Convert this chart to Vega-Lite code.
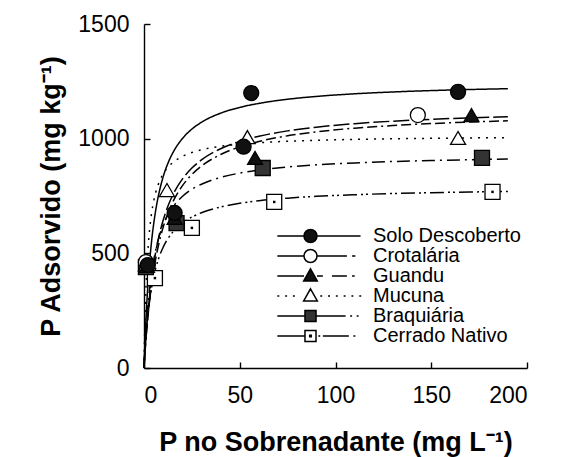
{
  "$schema": "https://vega.github.io/schema/vega-lite/v6.json",
  "width": 383,
  "height": 344,
  "autosize": "none",
  "padding": {"left": 144, "top": 24, "right": 37, "bottom": 89},
  "background": "white",
  "config": {
    "view": {"stroke": null},
    "axis": {
      "grid": false,
      "domainColor": "black",
      "domainWidth": 1.4,
      "tickColor": "black",
      "tickWidth": 1.4,
      "tickSize": -6,
      "labelFont": "Liberation Sans",
      "labelFontSize": 23,
      "labelColor": "black",
      "titleFont": "Liberation Sans",
      "titleFontSize": 27,
      "titleFontWeight": "bold",
      "titleColor": "black",
      "format": "d"
    },
    "legend": {
      "orient": "none",
      "legendX": 156.5,
      "legendY": 202,
      "symbolSize": 169,
      "labelOffset": 52.5,
      "labelFont": "Liberation Sans",
      "labelFontSize": 20,
      "labelColor": "black",
      "rowPadding": -1,
      "symbolStrokeWidth": 1.5
    }
  },
  "datasets": {
    "curves": [
      {"series": "Solo Descoberto", "C": 0, "q": 0},
      {"series": "Solo Descoberto", "C": 0.5, "q": 113.6},
      {"series": "Solo Descoberto", "C": 1, "q": 208.3},
      {"series": "Solo Descoberto", "C": 2, "q": 357.1},
      {"series": "Solo Descoberto", "C": 3, "q": 468.8},
      {"series": "Solo Descoberto", "C": 4, "q": 555.6},
      {"series": "Solo Descoberto", "C": 6, "q": 681.8},
      {"series": "Solo Descoberto", "C": 8, "q": 769.2},
      {"series": "Solo Descoberto", "C": 10, "q": 833.3},
      {"series": "Solo Descoberto", "C": 13, "q": 902.8},
      {"series": "Solo Descoberto", "C": 16, "q": 952.4},
      {"series": "Solo Descoberto", "C": 20, "q": 1000},
      {"series": "Solo Descoberto", "C": 25, "q": 1041.7},
      {"series": "Solo Descoberto", "C": 30, "q": 1071.4},
      {"series": "Solo Descoberto", "C": 40, "q": 1111.1},
      {"series": "Solo Descoberto", "C": 50, "q": 1136.4},
      {"series": "Solo Descoberto", "C": 60, "q": 1153.8},
      {"series": "Solo Descoberto", "C": 75, "q": 1171.9},
      {"series": "Solo Descoberto", "C": 90, "q": 1184.2},
      {"series": "Solo Descoberto", "C": 110, "q": 1195.7},
      {"series": "Solo Descoberto", "C": 130, "q": 1203.7},
      {"series": "Solo Descoberto", "C": 150, "q": 1209.7},
      {"series": "Solo Descoberto", "C": 170, "q": 1214.3},
      {"series": "Solo Descoberto", "C": 190, "q": 1217.9},
      {"series": "Crotalária", "C": 0, "q": 0},
      {"series": "Crotalária", "C": 0.5, "q": 69.6},
      {"series": "Crotalária", "C": 1, "q": 131.2},
      {"series": "Crotalária", "C": 2, "q": 235.2},
      {"series": "Crotalária", "C": 3, "q": 319.9},
      {"series": "Crotalária", "C": 4, "q": 390},
      {"series": "Crotalária", "C": 6, "q": 499.6},
      {"series": "Crotalária", "C": 8, "q": 581.2},
      {"series": "Crotalária", "C": 10, "q": 644.3},
      {"series": "Crotalária", "C": 13, "q": 716.2},
      {"series": "Crotalária", "C": 16, "q": 769.9},
      {"series": "Crotalária", "C": 20, "q": 823.3},
      {"series": "Crotalária", "C": 25, "q": 871.8},
      {"series": "Crotalária", "C": 30, "q": 907.3},
      {"series": "Crotalária", "C": 40, "q": 956.1},
      {"series": "Crotalária", "C": 50, "q": 988},
      {"series": "Crotalária", "C": 60, "q": 1010.5},
      {"series": "Crotalária", "C": 75, "q": 1034},
      {"series": "Crotalária", "C": 90, "q": 1050.3},
      {"series": "Crotalária", "C": 110, "q": 1065.5},
      {"series": "Crotalária", "C": 130, "q": 1076.3},
      {"series": "Crotalária", "C": 150, "q": 1084.4},
      {"series": "Crotalária", "C": 170, "q": 1090.6},
      {"series": "Crotalária", "C": 190, "q": 1095.6},
      {"series": "Guandu", "C": 0, "q": 0},
      {"series": "Guandu", "C": 0.5, "q": 63.7},
      {"series": "Guandu", "C": 1, "q": 120.5},
      {"series": "Guandu", "C": 2, "q": 217.7},
      {"series": "Guandu", "C": 3, "q": 297.8},
      {"series": "Guandu", "C": 4, "q": 364.9},
      {"series": "Guandu", "C": 6, "q": 470.9},
      {"series": "Guandu", "C": 8, "q": 551},
      {"series": "Guandu", "C": 10, "q": 613.6},
      {"series": "Guandu", "C": 13, "q": 685.5},
      {"series": "Guandu", "C": 16, "q": 739.7},
      {"series": "Guandu", "C": 20, "q": 794.1},
      {"series": "Guandu", "C": 25, "q": 843.8},
      {"series": "Guandu", "C": 30, "q": 880.4},
      {"series": "Guandu", "C": 40, "q": 931},
      {"series": "Guandu", "C": 50, "q": 964.3},
      {"series": "Guandu", "C": 60, "q": 987.8},
      {"series": "Guandu", "C": 75, "q": 1012.5},
      {"series": "Guandu", "C": 90, "q": 1029.7},
      {"series": "Guandu", "C": 110, "q": 1045.8},
      {"series": "Guandu", "C": 130, "q": 1057.2},
      {"series": "Guandu", "C": 150, "q": 1065.8},
      {"series": "Guandu", "C": 170, "q": 1072.4},
      {"series": "Guandu", "C": 190, "q": 1077.7},
      {"series": "Mucuna", "C": 0, "q": 0},
      {"series": "Mucuna", "C": 0.5, "q": 203},
      {"series": "Mucuna", "C": 1, "q": 338.3},
      {"series": "Mucuna", "C": 2, "q": 507.5},
      {"series": "Mucuna", "C": 3, "q": 609},
      {"series": "Mucuna", "C": 4, "q": 676.7},
      {"series": "Mucuna", "C": 6, "q": 761.3},
      {"series": "Mucuna", "C": 8, "q": 812},
      {"series": "Mucuna", "C": 10, "q": 845.8},
      {"series": "Mucuna", "C": 13, "q": 879.7},
      {"series": "Mucuna", "C": 16, "q": 902.2},
      {"series": "Mucuna", "C": 20, "q": 922.7},
      {"series": "Mucuna", "C": 25, "q": 939.8},
      {"series": "Mucuna", "C": 30, "q": 951.6},
      {"series": "Mucuna", "C": 40, "q": 966.7},
      {"series": "Mucuna", "C": 50, "q": 975.9},
      {"series": "Mucuna", "C": 60, "q": 982.3},
      {"series": "Mucuna", "C": 75, "q": 988.6},
      {"series": "Mucuna", "C": 90, "q": 992.9},
      {"series": "Mucuna", "C": 110, "q": 996.9},
      {"series": "Mucuna", "C": 130, "q": 999.6},
      {"series": "Mucuna", "C": 150, "q": 1001.6},
      {"series": "Mucuna", "C": 170, "q": 1003.2},
      {"series": "Mucuna", "C": 190, "q": 1004.4},
      {"series": "Braquiária", "C": 0, "q": 0},
      {"series": "Braquiária", "C": 0.5, "q": 85},
      {"series": "Braquiária", "C": 1, "q": 155.8},
      {"series": "Braquiária", "C": 2, "q": 267.1},
      {"series": "Braquiária", "C": 3, "q": 350.6},
      {"series": "Braquiária", "C": 4, "q": 415.6},
      {"series": "Braquiária", "C": 6, "q": 510},
      {"series": "Braquiária", "C": 8, "q": 575.4},
      {"series": "Braquiária", "C": 10, "q": 623.3},
      {"series": "Braquiária", "C": 13, "q": 675.3},
      {"series": "Braquiária", "C": 16, "q": 712.4},
      {"series": "Braquiária", "C": 20, "q": 748},
      {"series": "Braquiária", "C": 25, "q": 779.2},
      {"series": "Braquiária", "C": 30, "q": 801.4},
      {"series": "Braquiária", "C": 40, "q": 831.1},
      {"series": "Braquiária", "C": 50, "q": 850},
      {"series": "Braquiária", "C": 60, "q": 863.1},
      {"series": "Braquiária", "C": 75, "q": 876.6},
      {"series": "Braquiária", "C": 90, "q": 885.8},
      {"series": "Braquiária", "C": 110, "q": 894.4},
      {"series": "Braquiária", "C": 130, "q": 900.4},
      {"series": "Braquiária", "C": 150, "q": 904.8},
      {"series": "Braquiária", "C": 170, "q": 908.3},
      {"series": "Braquiária", "C": 190, "q": 911},
      {"series": "Cerrado Nativo", "C": 0, "q": 0},
      {"series": "Cerrado Nativo", "C": 0.5, "q": 71.8},
      {"series": "Cerrado Nativo", "C": 1, "q": 131.7},
      {"series": "Cerrado Nativo", "C": 2, "q": 225.7},
      {"series": "Cerrado Nativo", "C": 3, "q": 296.3},
      {"series": "Cerrado Nativo", "C": 4, "q": 351.1},
      {"series": "Cerrado Nativo", "C": 6, "q": 430.9},
      {"series": "Cerrado Nativo", "C": 8, "q": 486.2},
      {"series": "Cerrado Nativo", "C": 10, "q": 526.7},
      {"series": "Cerrado Nativo", "C": 13, "q": 570.5},
      {"series": "Cerrado Nativo", "C": 16, "q": 601.9},
      {"series": "Cerrado Nativo", "C": 20, "q": 632},
      {"series": "Cerrado Nativo", "C": 25, "q": 658.3},
      {"series": "Cerrado Nativo", "C": 30, "q": 677.1},
      {"series": "Cerrado Nativo", "C": 40, "q": 702.2},
      {"series": "Cerrado Nativo", "C": 50, "q": 718.2},
      {"series": "Cerrado Nativo", "C": 60, "q": 729.2},
      {"series": "Cerrado Nativo", "C": 75, "q": 740.6},
      {"series": "Cerrado Nativo", "C": 90, "q": 748.4},
      {"series": "Cerrado Nativo", "C": 110, "q": 755.6},
      {"series": "Cerrado Nativo", "C": 130, "q": 760.8},
      {"series": "Cerrado Nativo", "C": 150, "q": 764.5},
      {"series": "Cerrado Nativo", "C": 170, "q": 767.4},
      {"series": "Cerrado Nativo", "C": 190, "q": 769.8}
    ],
    "points": [
      {"series": "Cerrado Nativo", "C": 5.7, "q": 392},
      {"series": "Cerrado Nativo", "C": 25, "q": 611},
      {"series": "Cerrado Nativo", "C": 68, "q": 724},
      {"series": "Cerrado Nativo", "C": 182, "q": 768},
      {"series": "Braquiária", "C": 1, "q": 440},
      {"series": "Braquiária", "C": 17, "q": 632},
      {"series": "Braquiária", "C": 62, "q": 872},
      {"series": "Braquiária", "C": 176.5, "q": 916},
      {"series": "Mucuna", "C": 1, "q": 452},
      {"series": "Mucuna", "C": 12, "q": 776},
      {"series": "Mucuna", "C": 54, "q": 1007},
      {"series": "Mucuna", "C": 164, "q": 1003},
      {"series": "Guandu", "C": 1.5, "q": 445},
      {"series": "Guandu", "C": 16, "q": 655},
      {"series": "Guandu", "C": 58, "q": 916},
      {"series": "Guandu", "C": 171, "q": 1103},
      {"series": "Crotalária", "C": 1, "q": 462},
      {"series": "Crotalária", "C": 143, "q": 1103},
      {"series": "Solo Descoberto", "C": 2, "q": 449},
      {"series": "Solo Descoberto", "C": 16, "q": 676},
      {"series": "Solo Descoberto", "C": 52, "q": 965},
      {"series": "Solo Descoberto", "C": 56, "q": 1199},
      {"series": "Solo Descoberto", "C": 164, "q": 1204}
    ]
  },
  "resolve": {"scale": {"shape": "independent", "fill": "independent", "stroke": "independent"}},
  "layer": [
    {
      "data": {"name": "curves"},
      "mark": {"type": "line", "interpolate": "monotone", "color": "black", "strokeWidth": 1.5},
      "encoding": {
        "x": {"field": "C", "type": "quantitative", "scale": {"domain": [0, 200], "nice": false},
              "axis": {"values": [0, 50, 100, 150, 200], "title": "P no Sobrenadante (mg L⁻¹)", "labelPadding": 22, "titlePadding": 22}},
        "y": {"field": "q", "type": "quantitative", "scale": {"domain": [0, 1500], "nice": false},
              "axis": {"values": [0, 500, 1000, 1500], "title": "P Adsorvido (mg kg⁻¹)", "labelPadding": 21, "titlePadding": 12}},
        "detail": {"field": "series"},
        "strokeDash": {"field": "series", "type": "nominal", "legend": null,
          "scale": {"domain": ["Solo Descoberto", "Crotalária", "Guandu", "Mucuna", "Braquiária", "Cerrado Nativo"],
                    "range": [[1, 0], [16, 4], [10, 4, 10, 4, 2, 4], [2, 6], [13, 5, 2, 5], [14, 4, 2, 3, 2, 4]]}}
      }
    },
    {
      "data": {"name": "points"},
      "mark": {"type": "point", "filled": true, "stroke": "black", "strokeWidth": 1.3, "opacity": 1},
      "encoding": {
        "x": {"field": "C", "type": "quantitative"},
        "y": {"field": "q", "type": "quantitative"},
        "shape": {"field": "series", "type": "nominal", "legend": null,
          "scale": {"domain": ["Solo Descoberto", "Crotalária", "Guandu", "Mucuna", "Braquiária", "Cerrado Nativo"],
                    "range": ["circle", "circle", "triangle-up", "triangle-up", "square", "square"]}},
        "fill": {"field": "series", "type": "nominal", "legend": null,
          "scale": {"domain": ["Solo Descoberto", "Crotalária", "Guandu", "Mucuna", "Braquiária", "Cerrado Nativo"],
                    "range": ["#111111", "white", "#111111", "white", "#333333", "white"]}},
        "size": {"field": "series", "type": "nominal", "legend": null,
          "scale": {"domain": ["Solo Descoberto", "Crotalária", "Guandu", "Mucuna", "Braquiária", "Cerrado Nativo"],
                    "range": [225, 225, 250, 250, 185, 185]}}
      }
    },
    {
      "data": {"name": "points"},
      "transform": [{"filter": "datum.series === 'Cerrado Nativo'"}],
      "mark": {"type": "point", "filled": true, "shape": "square", "size": 6, "color": "black", "opacity": 1},
      "encoding": {
        "x": {"field": "C", "type": "quantitative"},
        "y": {"field": "q", "type": "quantitative"}
      }
    },
    {
      "data": {"name": "points"},
      "transform": [{"filter": "false"}],
      "mark": {"type": "point", "filled": true, "strokeWidth": 1.5, "opacity": 1},
      "encoding": {
        "shape": {"field": "series", "type": "nominal", "title": null,
          "scale": {"domain": ["Solo Descoberto", "Crotalária", "Guandu", "Mucuna", "Braquiária", "Cerrado Nativo"],
                    "range": [
                      "M-5.1,0H-1M1,0H7.7M-1,0A1,1,0,1,1,1,0A1,1,0,1,1,-1,0Z",
                      "M-5.1,0H-1M1,0H5.6M6.4,0H6.9M-1,0A1,1,0,1,1,1,0A1,1,0,1,1,-1,0Z",
                      "M-5.1,0H-1M1,0H1.9M3.3,0H5.6M6.4,0H6.8M0,-1.1L1.05,0.75L-1.05,0.75Z",
                      "M-5.1,0H-4.8M-3.9,0H-3.6M-2.7,0H-2.4M1.5,0H1.8M2.7,0H3M3.9,0H4.2M5.1,0H5.4M6.3,0H6.6M7.5,0H7.8M0,-1.1L1.05,0.75L-1.05,0.75Z",
                      "M-5.1,0H-0.85M0.85,0H5.4M6.1,0H6.4M7.1,0H7.4M-0.85,-0.85H0.85V0.85H-0.85Z",
                      "M-5.1,0H-0.85M1.2,0H1.5M1.9,0H5.9M6.6,0H6.9M-0.85,-0.85H0.85V0.85H-0.85ZM-0.12,-0.12H0.12V0.12H-0.12Z"
                    ]}},
        "fill": {"field": "series", "type": "nominal", "title": null,
          "scale": {"domain": ["Solo Descoberto", "Crotalária", "Guandu", "Mucuna", "Braquiária", "Cerrado Nativo"],
                    "range": ["#111111", "white", "#111111", "white", "#333333", "white"]}},
        "stroke": {"field": "series", "type": "nominal", "title": null,
          "scale": {"domain": ["Solo Descoberto", "Crotalária", "Guandu", "Mucuna", "Braquiária", "Cerrado Nativo"],
                    "range": ["black", "black", "black", "black", "black", "black"]}}
      }
    }
  ]
}
